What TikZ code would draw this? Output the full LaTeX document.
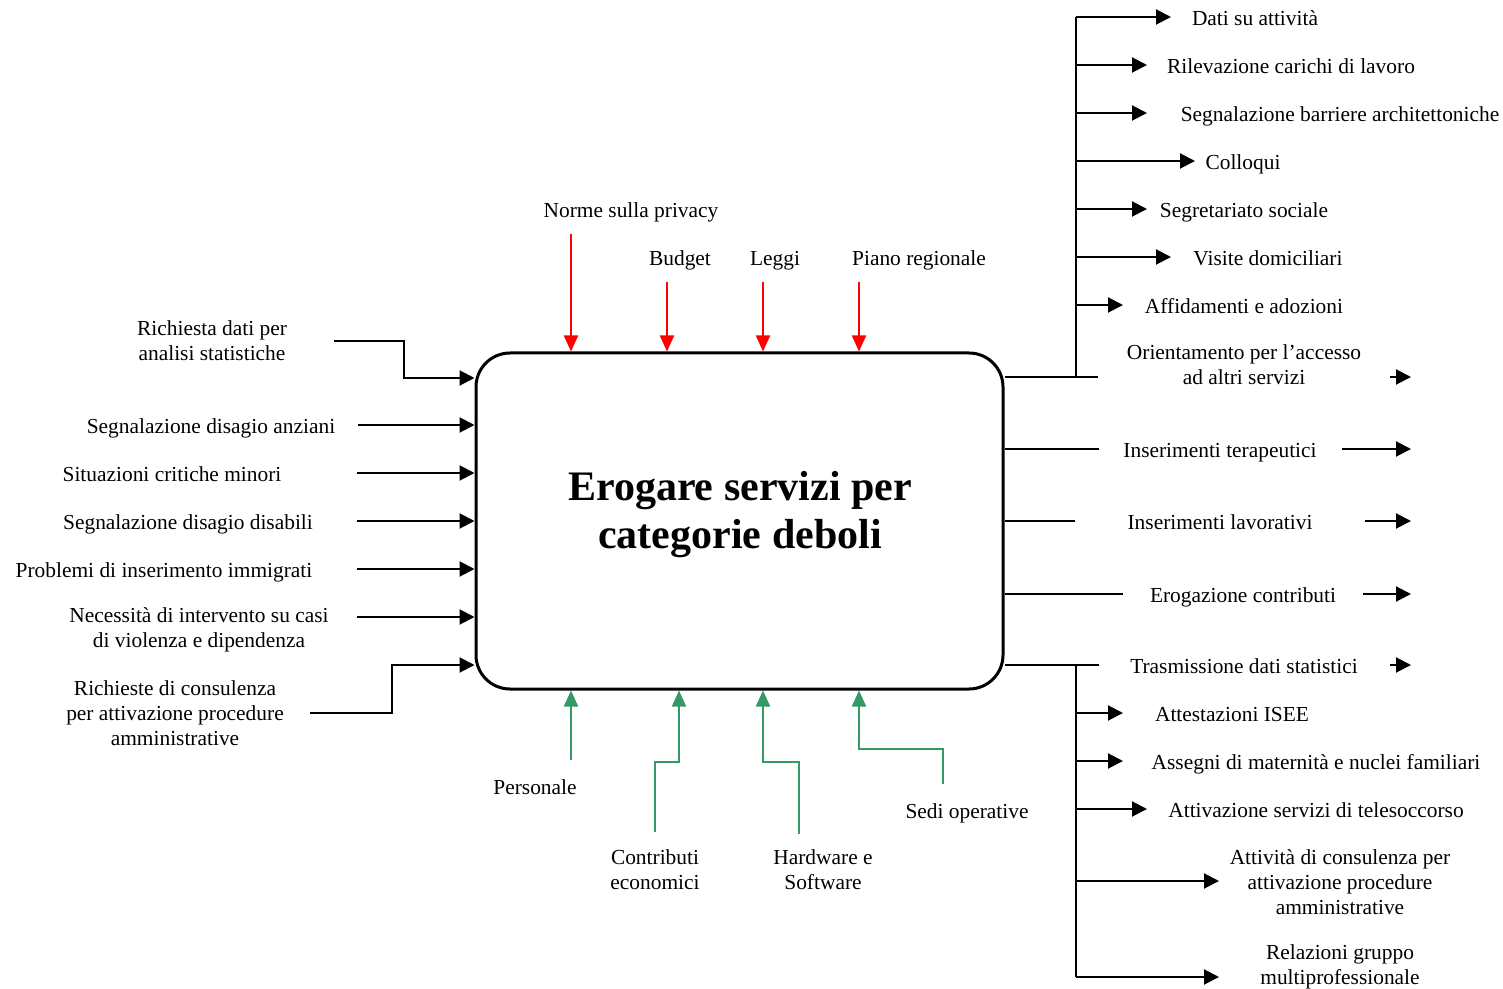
\documentclass[tikz,border=0pt]{standalone}
\usepackage{fontspec}
\setmainfont{Liberation Serif}
\usetikzlibrary{arrows.meta}
\definecolor{ctrlred}{RGB}{255,0,0}
\definecolor{mechgreen}{RGB}{51,153,102}
\tikzset{
  lblm/.style={inner sep=0pt, align=center, font=\fontsize{10.7}{12.5}\selectfont},
  lbl/.style={lblm, text height=7.4pt, text depth=2.35pt, yshift=-1.5pt},
  flow/.style={line width=1pt, -{Triangle[length=7.5pt,width=7.5pt]}},
  plain/.style={line width=1pt},
  ctrl/.style={line width=1pt, color=ctrlred, -{Triangle[length=8pt,width=7pt]}},
  mech/.style={line width=1pt, color=mechgreen, -{Triangle[length=8pt,width=7pt]}}
}
\begin{document}
\begin{tikzpicture}[x=0.5pt,y=-0.5pt]
\useasboundingbox (0,0) rectangle (1503,989);
% main box
\node[draw, line width=1.5pt, rounded corners=17pt, minimum width=263.5pt, minimum height=168pt, inner sep=0pt] (box) at (739.5,521) {};
\node[font=\bfseries\fontsize{21}{24}\selectfont, align=center, inner sep=0pt] (title) at (740,515) {Erogare servizi per\\categorie deboli};

% controls (top)
\node[lbl] (n1) at (631,209) {Norme sulla privacy};
\node[lbl] (n2) at (680,257) {Budget};
\node[lbl] (n3) at (775,257) {Leggi};
\node[lbl] (n4) at (919,257) {Piano regionale};
\coordinate (c1) at (571,234);
\coordinate (c2) at (667,282);
\coordinate (c3) at (763,282);
\coordinate (c4) at (859,282);
\foreach \c in {c1,c2,c3,c4} \draw[ctrl] (\c) -- (\c |- box.north);

% mechanisms (bottom)
\node[lbl] (m1l) at (535,786) {Personale};
\node[lblm] (m2l) at (655,869.5) {Contributi\\economici};
\node[lblm] (m3l) at (823,869.5) {Hardware e\\Software};
\node[lbl] (m4l) at (967,810) {Sedi operative};
\coordinate (m1) at (571,760);
\coordinate (m2) at (655,832);
\coordinate (m2b) at (679,762);
\coordinate (m3) at (799,834);
\coordinate (m3b) at (763,762);
\coordinate (m4) at (943,784);
\coordinate (m4b) at (859,749);
\draw[mech] (m1) -- (m1 |- box.south);
\draw[mech] (m2) |- (m2b) -- (m2b |- box.south);
\draw[mech] (m3) |- (m3b) -- (m3b |- box.south);
\draw[mech] (m4) |- (m4b) -- (m4b |- box.south);

% inputs (left)
\node[lblm] (l1) at (212,340.5) {Richiesta dati per\\analisi statistiche};
\node[lbl] (l2) at (211,425) {Segnalazione disagio anziani};
\node[lbl] (l3) at (172,473) {Situazioni critiche minori};
\node[lbl] (l4) at (188,521) {Segnalazione disagio disabili};
\node[lbl] (l5) at (164,569) {Problemi di inserimento immigrati};
\node[lblm] (l6) at (199,629.5) {Necessità di intervento su casi\\di violenza e dipendenza};
\node[lblm] (l7) at (175,713) {Richieste di consulenza\\per attivazione procedure\\amministrative};
\coordinate (i1) at (334,341);
\coordinate (i1b) at (404,378);
\coordinate (i2) at (358,425);
\coordinate (i3) at (357,473);
\coordinate (i4) at (357,521);
\coordinate (i5) at (357,569);
\coordinate (i6) at (357,617);
\coordinate (i7) at (310,713);
\coordinate (i7b) at (392,665);
\draw[flow] (i1) -| (i1b) -- (i1b -| box.west);
\foreach \c in {i2,i3,i4,i5,i6} \draw[flow] (\c) -- (\c -| box.west);
\draw[flow] (i7) -| (i7b) -- (i7b -| box.west);

% outputs (right) - upper bus
\node[lbl] (r1) at (1255,17) {Dati su attività};
\node[lbl] (r2) at (1291,65) {Rilevazione carichi di lavoro};
\node[lbl] (r3) at (1340,113) {Segnalazione barriere architettoniche};
\node[lbl] (r4) at (1243,161) {Colloqui};
\node[lbl] (r5) at (1244,209) {Segretariato sociale};
\node[lbl] (r6) at (1268,257) {Visite domiciliari};
\node[lbl] (r7) at (1244,305) {Affidamenti e adozioni};
\node[lblm] (r8) at (1244,364.5) {Orientamento per l’accesso\\ad altri servizi};
\coordinate (ob1) at (1098,377);
\coordinate (bt) at (1076,17);
\draw[plain] (ob1 -| box.east) -- (ob1);
\draw[plain] (bt) -- (bt |- ob1);
\coordinate (t1) at (1171,17);
\coordinate (t2) at (1147,65);
\coordinate (t3) at (1147,113);
\coordinate (t4) at (1195,161);
\coordinate (t5) at (1147,209);
\coordinate (t6) at (1171,257);
\coordinate (t7) at (1123,305);
\foreach \c in {t1,t2,t3,t4,t5,t6,t7} \draw[flow] (\c -| bt) -- (\c);
\coordinate (o8a) at (1390,377);
\coordinate (o8b) at (1411,377);
\draw[flow] (o8a) -- (o8b);

% outputs (right) - direct
\node[lbl] (r9) at (1220,449) {Inserimenti terapeutici};
\node[lbl] (r10) at (1220,521) {Inserimenti lavorativi};
\node[lbl] (r11) at (1243,594) {Erogazione contributi};
\node[lbl] (r12) at (1244,665) {Trasmissione dati statistici};
\coordinate (e9) at (1099,449);
\coordinate (e10) at (1075,521);
\coordinate (e11) at (1123,594);
\coordinate (e12) at (1099,665);
\foreach \c in {e9,e10,e11,e12} \draw[plain] (\c -| box.east) -- (\c);
\coordinate (a9) at (1342,449);
\coordinate (a10) at (1365,521);
\coordinate (a11) at (1363,594);
\coordinate (a12) at (1390,665);
\coordinate (z9) at (1411,449);
\coordinate (z10) at (1411,521);
\coordinate (z11) at (1411,594);
\coordinate (z12) at (1411,665);
\draw[flow] (a9) -- (z9);
\draw[flow] (a10) -- (z10);
\draw[flow] (a11) -- (z11);
\draw[flow] (a12) -- (z12);

% outputs (right) - lower bus
\node[lbl] (r13) at (1232,713) {Attestazioni ISEE};
\node[lbl] (r14) at (1316,761) {Assegni di maternità e nuclei familiari};
\node[lbl] (r15) at (1316,809) {Attivazione servizi di telesoccorso};
\node[lblm] (r16) at (1340,882) {Attività di consulenza per\\attivazione procedure\\amministrative};
\node[lblm] (r17) at (1340,967) {Relazioni gruppo\\multiprofessionale};
\coordinate (bb) at (1076,665);
\coordinate (u13) at (1123,713);
\coordinate (u14) at (1123,761);
\coordinate (u15) at (1147,809);
\coordinate (u16) at (1219,881);
\coordinate (u17) at (1219,977);
\draw[plain] (bb) -- (bb |- u17);
\foreach \c in {u13,u14,u15,u16,u17} \draw[flow] (\c -| bb) -- (\c);
\end{tikzpicture}
\end{document}
